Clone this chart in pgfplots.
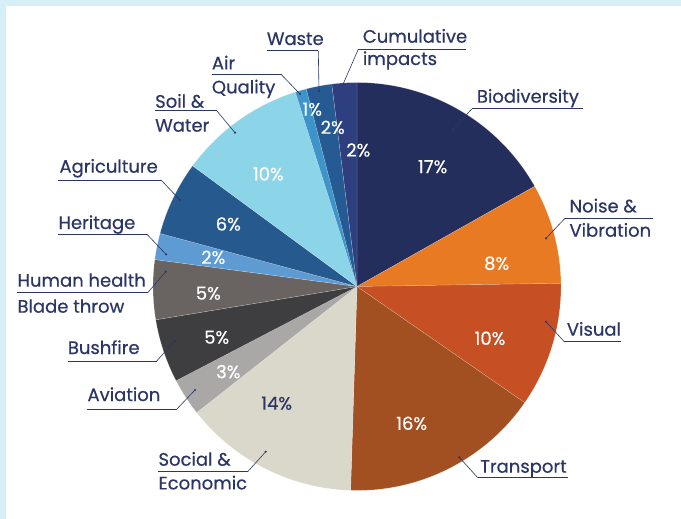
\documentclass[border=0pt]{standalone}
\usepackage{fontspec}
\setmainfont{Poppins}[FakeBold=0.45]
\usepackage{pgfplots}
\pgfplotsset{compat=1.18}
\usepackage{pgfplotstable}
\definecolor{navy}{HTML}{2B3566}
\definecolor{bgblue}{HTML}{D6EFF6}
\definecolor{c0}{HTML}{232E5C}
\definecolor{c1}{HTML}{E87A24}
\definecolor{c2}{HTML}{C65024}
\definecolor{c3}{HTML}{A24F22}
\definecolor{c4}{HTML}{DAD8CA}
\definecolor{c5}{HTML}{A9A8A7}
\definecolor{c6}{HTML}{3E3E40}
\definecolor{c7}{HTML}{696461}
\definecolor{c8}{HTML}{5E9BD3}
\definecolor{c9}{HTML}{265A8F}
\definecolor{c10}{HTML}{8CD4E8}
\definecolor{c11}{HTML}{3C94C9}
\definecolor{c12}{HTML}{255A92}
\definecolor{c13}{HTML}{2E3F7F}
% share of each impact (percent), clockwise from 12 o'clock
\pgfplotstableread{
idx name val
0  Biodiversity 16.83
1  Noise        7.92
2  Visual       9.89
3  Transport    15.86
4  Social       13.89
5  Aviation     2.97
6  Bushfire     5.03
7  Human        4.72
8  Heritage     2.08
9  Agriculture  5.89
10 Soil         10.03
11 Air          0.89
12 Waste        2.03
13 Cumulative   1.97
}\piedata
\tikzset{
  lbl/.style={anchor=base west, text=navy, inner sep=0pt, font=\fontsize{18}{20}\selectfont},
  pct/.style={anchor=center, text=white, inner sep=0pt, font=\fontsize{18}{20}\selectfont},
  uline/.style={navy, line width=1pt},
  lead/.style={navy, line width=0.6pt},
}
\begin{document}
\begin{tikzpicture}
\gdef\cumul{90}
\pgfplotstableforeachcolumnelement{val}\of\piedata\as\v{%
  \pgfmathsetmacro\e{\cumul-3.6*\v}%
  \expandafter\xdef\csname sa\pgfplotstablerow\endcsname{\cumul}%
  \expandafter\xdef\csname ea\pgfplotstablerow\endcsname{\e}%
  \xdef\cumul{\e}%
}
\begin{axis}[width=681pt, height=519pt, scale only axis,
  xmin=0, xmax=681, ymin=0, ymax=519, y dir=reverse,
  hide axis, clip=false]
\fill[bgblue] (axis cs:0,0) rectangle (axis cs:681,519);
\fill[white] (axis cs:6,6) rectangle (axis cs:681,519);
\pgfplotsinvokeforeach{0,...,13}{
  \fill[c#1, draw=white, draw opacity=0.35, line width=0.4pt] (axis cs:357,286.5) -- ++(\csname sa#1\endcsname:204pt)
    arc[start angle=\csname sa#1\endcsname, end angle=\csname ea#1\endcsname, radius=204pt] -- cycle;
}
% percentage labels
\node[pct] at (axis cs:432.7,166.7) {17\%};
\node[pct] at (axis cs:496.7,263.3) {8\%};
\node[pct] at (axis cs:490,338.3) {10\%};
\node[pct] at (axis cs:411.7,423.3) {16\%};
\node[pct, text=navy] at (axis cs:276.7,403.3) {14\%};
\node[pct] at (axis cs:228.3,371.7) {3\%};
\node[pct] at (axis cs:216.7,337.3) {5\%};
\node[pct] at (axis cs:208.3,293.3) {5\%};
\node[pct] at (axis cs:213.3,257.3) {2\%};
\node[pct] at (axis cs:228.3,224) {6\%};
\node[pct] at (axis cs:268.3,174) {10\%};
\node[pct] at (axis cs:312.3,109.3) {1\%};
\node[pct] at (axis cs:332.7,127.3) {2\%};
\node[pct] at (axis cs:358.3,150) {2\%};
% category labels
\node[lbl] at (axis cs:476.7,102.7) {Biodiversity};
\draw[uline] (axis cs:471.7,109) -- (axis cs:583.3,109);
\draw[lead] (axis cs:471.7,109) -- (axis cs:452.7,130);
\fill[navy] (axis cs:452.7,130) circle[radius=1.2pt];

\node[lbl] at (axis cs:569.3,212.4) {Noise \&};
\node[lbl] at (axis cs:569.3,236.7) {Vibration};
\draw[uline] (axis cs:565,218.3) -- (axis cs:652.7,218.3);
\draw[lead] (axis cs:565,218.3) -- (axis cs:546,238.3);
\fill[navy] (axis cs:546,238.3) circle[radius=1.2pt];

\node[lbl] at (axis cs:566.7,335.7) {Visual};
\draw[uline] (axis cs:564.3,341.7) -- (axis cs:620.7,341.7);
\draw[lead] (axis cs:564.3,341.7) -- (axis cs:546,321.7);
\fill[navy] (axis cs:546,321.7) circle[radius=1.2pt];

\node[lbl] at (axis cs:480,472.7) {Transport};
\draw[uline] (axis cs:477.7,477.7) -- (axis cs:567.7,477.7);
\draw[lead] (axis cs:477.7,477.7) -- (axis cs:459.3,457.3);
\fill[navy] (axis cs:459.3,457.3) circle[radius=1.2pt];

\node[lbl] at (axis cs:158.3,465.7) {Social \&};
\node[lbl] at (axis cs:158.3,489.4) {Economic};
\draw[uline] (axis cs:158.3,471.7) -- (axis cs:247.7,471.7);
\draw[lead] (axis cs:247.7,471.7) -- (axis cs:265.7,451.7);
\fill[navy] (axis cs:265.7,451.7) circle[radius=1.2pt];

\node[lbl] at (axis cs:87.3,401) {Aviation};
\draw[uline] (axis cs:86.7,409.3) -- (axis cs:176.7,409.3);
\draw[lead] (axis cs:176.7,409.3) -- (axis cs:195,390);
\fill[navy] (axis cs:195,390) circle[radius=1.2pt];

\node[lbl] at (axis cs:67.7,354) {Bushfire};
\draw[uline] (axis cs:67.7,361) -- (axis cs:156.7,361);
\draw[lead] (axis cs:156.7,361) -- (axis cs:175,340.7);
\fill[navy] (axis cs:175,340.7) circle[radius=1.2pt];

\node[lbl] at (axis cs:17.3,286.7) {Human health};
\node[lbl] at (axis cs:17.3,312.7) {Blade throw};
\draw[uline] (axis cs:17.3,292.7) -- (axis cs:147.7,292.7);
\draw[lead] (axis cs:147.7,292.7) -- (axis cs:165.7,271.7);
\fill[navy] (axis cs:165.7,271.7) circle[radius=1.2pt];

\node[lbl] at (axis cs:58.3,229) {Heritage};
\draw[uline] (axis cs:58.3,234) -- (axis cs:146.7,234);
\draw[lead] (axis cs:146.7,234) -- (axis cs:166,254.3);
\fill[navy] (axis cs:166,254.3) circle[radius=1.2pt];

\node[lbl] at (axis cs:59.3,172.7) {Agriculture};
\draw[uline] (axis cs:58.3,180.7) -- (axis cs:161.7,180.7);
\draw[lead] (axis cs:161.7,180.7) -- (axis cs:180,200);
\fill[navy] (axis cs:180,200) circle[radius=1.2pt];

\node[lbl] at (axis cs:155,107.7) {Soil \&};
\node[lbl] at (axis cs:155,131.7) {Water};
\draw[uline] (axis cs:155,110.7) -- (axis cs:216.7,110.7);
\draw[lead] (axis cs:216.7,110.7) -- (axis cs:235,132.7);
\fill[navy] (axis cs:235,132.7) circle[radius=1.2pt];

\node[lbl] at (axis cs:211.7,69.4) {Air};
\node[lbl] at (axis cs:211.7,93.4) {Quality};
\draw[uline] (axis cs:211.7,75) -- (axis cs:281.7,75);
\draw[lead] (axis cs:281.7,75) -- (axis cs:300,94);
\fill[navy] (axis cs:300,94) circle[radius=1.2pt];

\node[lbl] at (axis cs:266.7,45) {Waste};
\draw[uline] (axis cs:266.7,50.7) -- (axis cs:318.3,50.7);
\draw[lead] (axis cs:318.3,50.7) -- (axis cs:319,91);
\fill[navy] (axis cs:319,91) circle[radius=1.2pt];

\node[lbl] at (axis cs:362.7,42.7) {Cumulative};
\node[lbl] at (axis cs:362.7,65) {impacts};
\draw[uline] (axis cs:358.3,49.3) -- (axis cs:466,49.3);
\draw[lead] (axis cs:358.3,49.3) -- (axis cs:342.7,85);
\fill[navy] (axis cs:342.7,85) circle[radius=1.2pt];
\end{axis}
\end{tikzpicture}
\end{document}
